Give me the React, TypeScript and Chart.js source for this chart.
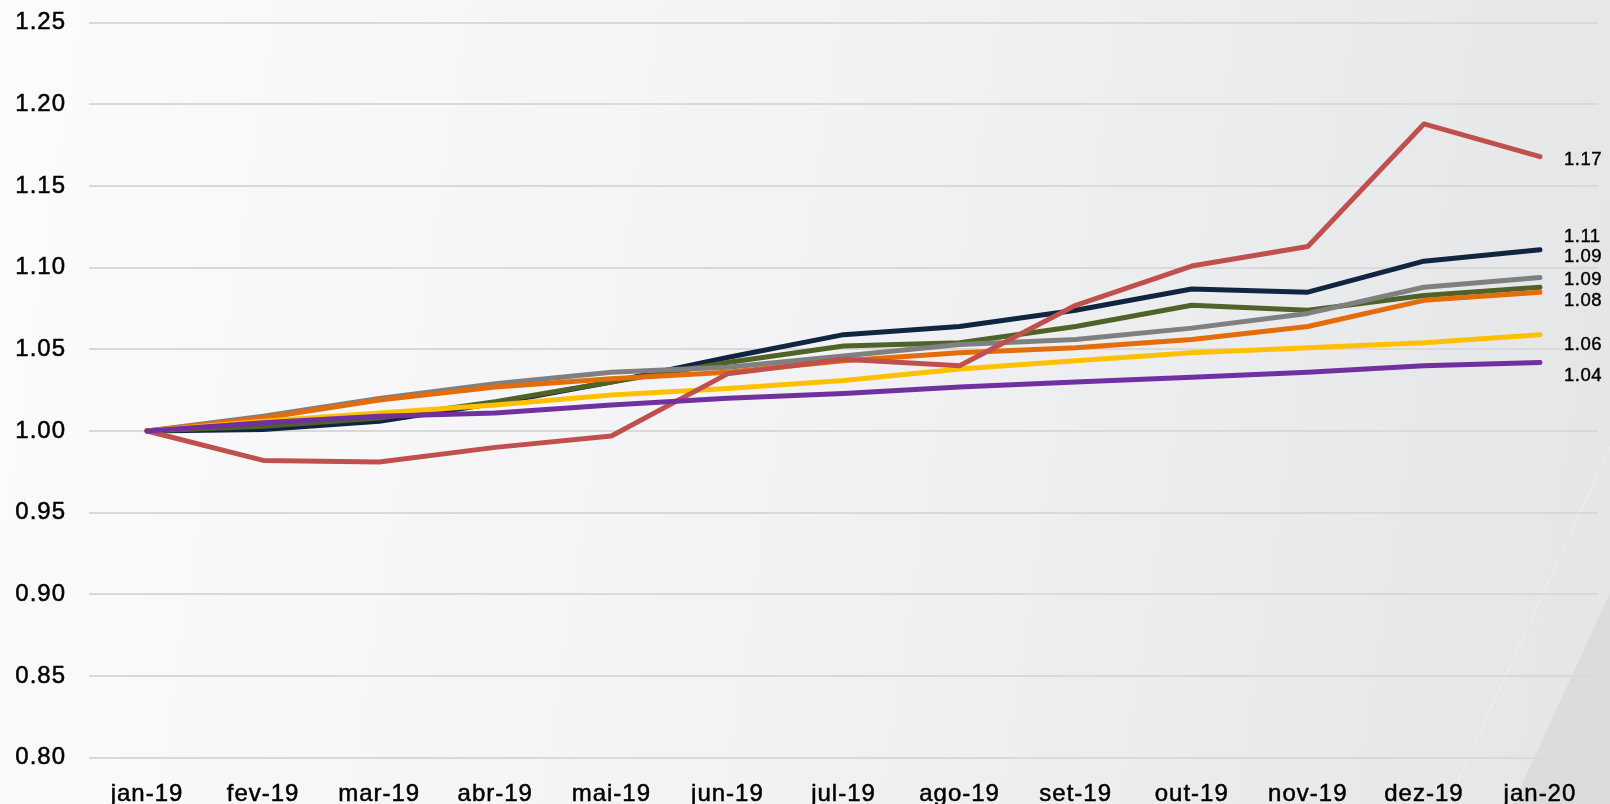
import React, { useEffect, useRef } from 'react';
import { Chart, registerables } from 'chart.js';

Chart.register(...registerables);

const FONT = "'Liberation Sans', Arial, Helvetica, sans-serif";

const months = ['jan-19', 'fev-19', 'mar-19', 'abr-19', 'mai-19', 'jun-19', 'jul-19', 'ago-19', 'set-19', 'out-19', 'nov-19', 'dez-19', 'jan-20'];

const yTicks = [0.8, 0.85, 0.9, 0.95, 1.0, 1.05, 1.1, 1.15, 1.2, 1.25];

const redSeries = [1.000, 0.982, 0.981, 0.990, 0.997, 1.035, 1.044, 1.040, 1.077, 1.101, 1.113, 1.188, 1.168];
const navySeries = [1.000, 1.001, 1.006, 1.017, 1.030, 1.045, 1.059, 1.064, 1.074, 1.087, 1.085, 1.104, 1.111];
const greenSeries = [1.000, 1.003, 1.008, 1.018, 1.030, 1.042, 1.052, 1.054, 1.064, 1.077, 1.074, 1.083, 1.088];
const graySeries = [1.000, 1.009, 1.020, 1.029, 1.036, 1.039, 1.046, 1.053, 1.056, 1.063, 1.072, 1.088, 1.094];
const orangeSeries = [1.000, 1.008, 1.019, 1.027, 1.032, 1.036, 1.043, 1.048, 1.051, 1.056, 1.064, 1.080, 1.085];
const yellowSeries = [1.000, 1.006, 1.011, 1.016, 1.022, 1.026, 1.031, 1.038, 1.043, 1.048, 1.051, 1.054, 1.059];
const purpleSeries = [1.000, 1.005, 1.009, 1.011, 1.016, 1.020, 1.023, 1.027, 1.030, 1.033, 1.036, 1.040, 1.042];

const endLabels = ['1.04', '1.17', '1.06', '1.08', '1.09', '1.09', '1.11'];
// vertical nudges (px) of the end labels relative to each line's last point
const endLabelNudge = [13, 3, 10, 9, -21, -7, -13];

const seriesList = [purpleSeries, redSeries, yellowSeries, orangeSeries, graySeries, greenSeries, navySeries];
const seriesColors = ['#7030A0', '#C0504D', '#FFC000', '#E46C0A', '#808080', '#4F6228', '#10253F'];

const backgroundPlugin = {
  id: 'slideBackground',
  beforeDraw(chart: any) {
    const { ctx, width, height } = chart;
    ctx.save();
    const g = ctx.createLinearGradient(0, 0, width, height * 0.3);
    g.addColorStop(0, '#fbfbfc');
    g.addColorStop(0.5, '#f3f3f5');
    g.addColorStop(1, '#e5e6e8');
    ctx.fillStyle = g;
    ctx.fillRect(0, 0, width, height);
    // darker wedge bottom right
    ctx.beginPath();
    ctx.moveTo(width, 593);
    ctx.lineTo(1513, height);
    ctx.lineTo(width, height);
    ctx.closePath();
    ctx.fillStyle = '#dcdcdf';
    ctx.fill();
    // faint light streak
    ctx.beginPath();
    ctx.moveTo(width, 447);
    ctx.lineTo(1447, height);
    ctx.strokeStyle = 'rgba(255,255,255,0.25)';
    ctx.lineWidth = 1.5;
    ctx.stroke();
    ctx.restore();
    ctx.letterSpacing = '1px';
  },
};

const endLabelPlugin = {
  id: 'endLabels',
  afterDatasetsDraw(chart: any) {
    const ctx = chart.ctx;
    ctx.save();
    ctx.letterSpacing = '0.5px';
    ctx.font = `18.5px ${FONT}`;
    ctx.fillStyle = '#000';
    ctx.strokeStyle = '#000';
    ctx.lineWidth = 0.4;
    ctx.textAlign = 'left';
    ctx.textBaseline = 'middle';
    chart.data.datasets.forEach((_ds: any, i: number) => {
      const meta = chart.getDatasetMeta(i);
      const pt = meta.data[meta.data.length - 1];
      if (!pt) return;
      ctx.fillText(endLabels[i], pt.x + 24, pt.y + endLabelNudge[i]);
      ctx.strokeText(endLabels[i], pt.x + 24, pt.y + endLabelNudge[i]);
    });
    ctx.restore();
  },
};

export default function App() {
  const canvasRef = useRef<HTMLCanvasElement | null>(null);

  useEffect(() => {
    if (!canvasRef.current) return;
    const chart = new Chart(canvasRef.current, {
      type: 'line',
      data: {
        labels: months,
        datasets: seriesList.map((s, i) => ({
          data: s,
          borderColor: seriesColors[i],
          backgroundColor: seriesColors[i],
          borderWidth: 5,
          pointRadius: 0,
          pointHoverRadius: 0,
          tension: 0,
          fill: false,
          borderCapStyle: 'round' as const,
          borderJoinStyle: 'round' as const,
          order: i,
        })),
      },
      options: {
        animation: false,
        responsive: false,
        devicePixelRatio: 1,
        events: [],
        layout: { padding: { top: 22.7, right: 12, left: 0, bottom: 0 } },
        plugins: {
          legend: { display: false },
          title: { display: false },
          tooltip: { enabled: false },
        },
        scales: {
          x: {
            offset: true,
            grid: { display: false, drawTicks: false },
            border: { display: false },
            ticks: {
              color: '#000',
              font: { family: FONT, size: 24 },
              padding: 22,
              maxRotation: 0,
              autoSkip: false,
              textStrokeColor: '#000',
              textStrokeWidth: 0.5,
            },
            afterFit(scale: any) {
              scale.height = 46.3;
            },
          },
          y: {
            min: yTicks[0],
            max: yTicks[yTicks.length - 1],
            afterBuildTicks(scale: any) {
              scale.ticks = yTicks.map((v) => ({ value: v }));
            },
            grid: { color: '#d9d9d9', lineWidth: 2, drawTicks: false },
            border: { display: false },
            ticks: {
              color: '#000',
              font: { family: FONT, size: 24 },
              padding: 23,
              textStrokeColor: '#000',
              textStrokeWidth: 0.5,
              callback: (v: any) => Number(v).toFixed(2),
            },
            afterFit(scale: any) {
              scale.width = 89;
              scale.paddingTop = 0;
              scale.paddingBottom = 0;
            },
          },
        },
      },
      plugins: [backgroundPlugin, endLabelPlugin],
    });
    return () => chart.destroy();
  }, []);

  return (
    <div style={{ position: 'absolute', left: 0, top: 0, width: 1610, height: 804, overflow: 'hidden' }}>
      <canvas ref={canvasRef} width={1610} height={804} style={{ display: 'block', width: 1610, height: 804 }} />
    </div>
  );
}
